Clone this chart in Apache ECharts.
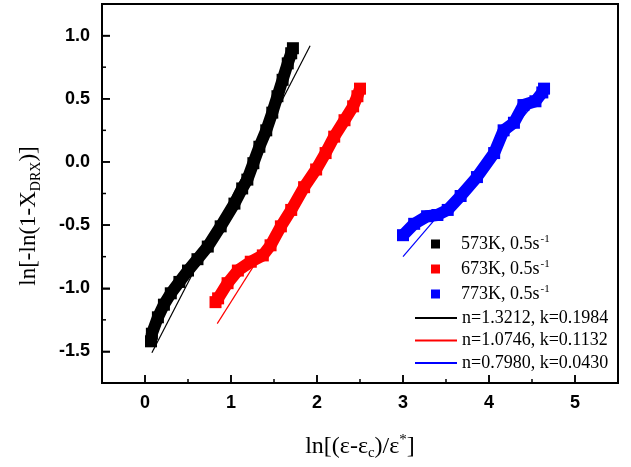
<!DOCTYPE html>
<html>
<head>
<meta charset="utf-8">
<script src="https://cdn.jsdelivr.net/npm/echarts@6/dist/echarts.min.js"></script>
<style>
  html, body { margin: 0; padding: 0; background: #fff; }
  #main { width: 631px; height: 467px; }
</style>
</head>
<body>
<div id="main"></div>
<script>
// 数据
var bandNames = ['573K, 0.5s', '673K, 0.5s', '773K, 0.5s'];
var fitNames = ['n=1.3212, k=0.1984', 'n=1.0746, k=0.1132', 'n=0.7980, k=0.0430'];
var colors = ['#000000', '#ff0000', '#0000ff'];

var data573 = [[0.07,-1.42],[0.08,-1.36],[0.15,-1.23],[0.22,-1.13],[0.30,-1.04],[0.40,-0.95],
  [0.50,-0.86],[0.61,-0.77],[0.73,-0.67],[0.88,-0.51],[1.04,-0.33],[1.13,-0.21],[1.19,-0.14],
  [1.26,-0.01],[1.33,0.12],[1.41,0.25],[1.48,0.39],[1.54,0.52],[1.60,0.65],[1.66,0.78],
  [1.70,0.86],[1.72,0.90]];
var data673 = [[0.82,-1.11],[0.85,-1.08],[0.96,-0.96],[1.08,-0.86],[1.23,-0.79],[1.37,-0.74],
  [1.46,-0.66],[1.58,-0.51],[1.70,-0.38],[1.85,-0.20],[1.99,-0.06],[2.10,0.07],[2.20,0.20],
  [2.32,0.33],[2.42,0.44],[2.47,0.52],[2.50,0.58]];
var data773 = [[3.00,-0.58],[3.13,-0.49],[3.28,-0.43],[3.40,-0.42],[3.52,-0.38],[3.67,-0.27],
  [3.86,-0.12],[4.06,0.07],[4.17,0.25],[4.29,0.31],[4.40,0.45],[4.54,0.48],[4.62,0.55],
  [4.64,0.58]];

var fit573 = [[0.08,-1.51],[1.92,0.92]];
var fit673 = [[0.84,-1.28],[2.52,0.53]];
var fit773 = [[3.00,-0.75],[4.65,0.56]];

var xRange = [-0.5, 5.5];
var yRange = [-1.75, 1.25];
var xMajor = [0, 1, 2, 3, 4, 5];
var xMinor = [0.5, 1.5, 2.5, 3.5, 4.5];
var yMajor = [-1.5, -1.0, -0.5, 0.0, 0.5, 1.0];
var yMinor = [-1.25, -0.75, -0.25, 0.25, 0.75];

var serif = "'Liberation Serif', 'Times New Roman', serif";
var sans = "'Liberation Sans', Arial, sans-serif";

var chart = echarts.init(document.getElementById('main'));

function band(name, data, color) {
  return {
    name: name, type: 'line', data: data,
    symbol: 'rect', symbolSize: 12, showSymbol: true,
    itemStyle: { color: color },
    lineStyle: { color: color, width: 12, join: 'round' },
    emphasis: { disabled: true }, z: 2
  };
}
function fit(name, data, color) {
  return {
    name: name, type: 'line', data: data,
    symbol: 'none', symbolSize: 0, showSymbol: false,
    itemStyle: { color: color },
    lineStyle: { color: color, width: 1.2 },
    emphasis: { disabled: true }, z: 3
  };
}

var yName = {
  type: 'text', x: 29, y: 216, rotation: Math.PI / 2,
  style: {
    text: '{a|ln[-ln(1-X}{sub|DRX}{a|)]}',
    align: 'center', verticalAlign: 'middle',
    rich: {
      a: { fontFamily: serif, fontSize: 23, fill: '#000', lineHeight: 28 },
      sub: { fontFamily: serif, fontSize: 14, fill: '#000', lineHeight: 28, verticalAlign: 'bottom', padding: [13, 0, 0, 0] }
    }
  }
};

chart.setOption({
  animation: false,
  grid: { left: 102, top: 4, right: 13, bottom: 84, outerBoundsMode: 'none', show: true, borderColor: '#000', borderWidth: 2 },
  xAxis: {
    type: 'value', min: xRange[0], max: xRange[1],
    name: '{a|ln[(ε-ε}{sub|c}{a|)/ε}{sup|*}{a|]}',
    nameLocation: 'middle', nameGap: 50,
    nameTextStyle: {
      rich: {
        a: { fontFamily: serif, fontSize: 24, color: '#000', lineHeight: 28 },
        sub: { fontFamily: serif, fontSize: 15, color: '#000', lineHeight: 28, verticalAlign: 'bottom', padding: [13, 0, 0, 0] },
        sup: { fontFamily: serif, fontSize: 15, color: '#000', lineHeight: 28, verticalAlign: 'top', padding: [0, 0, 11, 0] }
      }
    },
    axisLine: { show: true, onZero: false, lineStyle: { color: '#000', width: 2 } },
    axisTick: { show: true, inside: true, length: 8, lineStyle: { color: '#000', width: 1.5 } },
    axisLabel: { margin: 11, color: '#000', fontFamily: sans, fontWeight: 'bold', fontSize: 18, showMinLabel: false, showMaxLabel: false },
    splitLine: { show: false }
  },
  yAxis: {
    type: 'value', min: yRange[0], max: yRange[1],
    axisLine: { show: true, onZero: false, lineStyle: { color: '#000', width: 2 } },
    axisTick: { show: true, inside: true, length: 8, lineStyle: { color: '#000', width: 1.5 } },
    axisLabel: {
      margin: 12, color: '#000', fontFamily: sans, fontWeight: 'bold', fontSize: 18,
      showMinLabel: false, showMaxLabel: false,
      formatter: function (v) { return v.toFixed(1); }
    },
    splitLine: { show: false }
  },
  legend: [{
    orient: 'vertical', left: 431, top: 234, padding: 0,
    itemWidth: 9, itemHeight: 9, itemGap: 5,
    data: bandNames.map(function (n) { return { name: n, icon: 'rect' }; }),
    formatter: function (n) { return '{t|' + n + '}{sup|-1}'; },
    textStyle: {
      rich: {
        t: { fontFamily: serif, fontSize: 18, color: '#000', lineHeight: 20, padding: [0, 0, 0, 16] },
        sup: { fontFamily: serif, fontSize: 11, color: '#000', lineHeight: 20, verticalAlign: 'top', padding: [0, 0, 9, 1] }
      }
    }
  }, {
    orient: 'vertical', left: 414, top: 308, padding: 0,
    itemWidth: 42, itemHeight: 10, itemGap: 2.5,
    data: fitNames,
    itemStyle: { opacity: 0 },
    lineStyle: { width: 2 },
    textStyle: { fontFamily: serif, fontSize: 18, color: '#000', lineHeight: 20 }
  }],
  graphic: [yName],
  series: [
    band(bandNames[0], data573, colors[0]),
    band(bandNames[1], data673, colors[1]),
    band(bandNames[2], data773, colors[2]),
    fit(fitNames[0], fit573, colors[0]),
    fit(fitNames[1], fit673, colors[1]),
    fit(fitNames[2], fit773, colors[2])
  ]
});

// 刻度线: inside ticks placed through the chart's own scales
var tickEls = [];
function addTick(value, isX, len) {
  var p = chart.convertToPixel({ gridIndex: 0 }, isX ? [value, yRange[0]] : [xRange[0], value]);
  tickEls.push({
    type: 'line', z: 100, silent: true,
    shape: isX ? { x1: p[0], y1: p[1], x2: p[0], y2: p[1] - len } : { x1: p[0], y1: p[1], x2: p[0] + len, y2: p[1] },
    style: { stroke: '#000', lineWidth: 1.5 }
  });
}
xMajor.forEach(function (v) { addTick(v, true, 8); });
xMinor.forEach(function (v) { addTick(v, true, 4); });
yMajor.forEach(function (v) { addTick(v, false, 8); });
yMinor.forEach(function (v) { addTick(v, false, 4); });
chart.setOption({ graphic: [yName].concat(tickEls) });
</script>
</body>
</html>
